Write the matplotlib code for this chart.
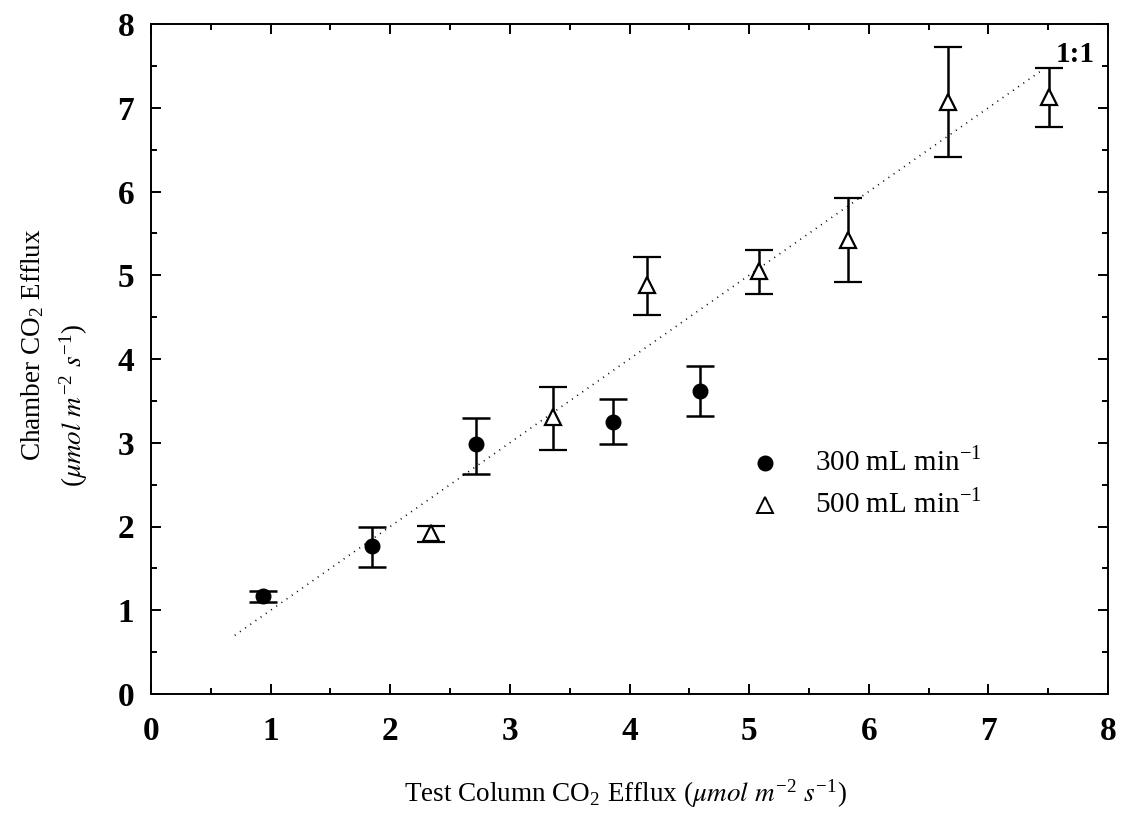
import matplotlib
matplotlib.use("Agg")
import matplotlib.pyplot as plt
import numpy as np

# 300 mL min-1 series (filled circles)
x300 = [0.94, 1.85, 2.72, 3.86, 4.59]
y300 = [1.17, 1.77, 2.99, 3.25, 3.62]
lo300 = [1.10, 1.52, 2.63, 2.98, 3.32]
hi300 = [1.23, 1.99, 3.29, 3.52, 3.92]

# 500 mL min-1 series (open triangles)
x500 = [2.34, 3.36, 4.15, 5.08, 5.83, 6.66, 7.51]
y500 = [1.92, 3.31, 4.88, 5.05, 5.42, 7.07, 7.13]
lo500 = [1.81, 2.91, 4.53, 4.78, 4.92, 6.41, 6.77]
hi500 = [2.01, 3.66, 5.22, 5.30, 5.92, 7.72, 7.47]

one_to_one = [0.70, 7.43]

xticks = [0, 1, 2, 3, 4, 5, 6, 7, 8]
yticks = [0, 1, 2, 3, 4, 5, 6, 7, 8]

plt.rcParams['font.family'] = ['Liberation Serif', 'DejaVu Serif']
plt.rcParams['mathtext.fontset'] = 'stix'

W, H = 1121, 816
fig = plt.figure(figsize=(W / 100, H / 100), dpi=100)
ax = fig.add_axes([151 / W, 1 - 694 / H, (1108 - 151) / W, (694 - 24) / H])

ax.plot(one_to_one, one_to_one, linestyle=(0, (0.6, 3.2)), color='black', lw=1.2)

def err(y, lo, hi):
    y = np.array(y); return [y - np.array(lo), np.array(hi) - y]

ax.errorbar(x300, y300, yerr=err(y300, lo300, hi300), fmt='o', color='black',
            markersize=10.5, capsize=10, elinewidth=1.8, capthick=1.8,
            markerfacecolor='black', markeredgecolor='black')
ax.errorbar(x500, y500, yerr=err(y500, lo500, hi500), fmt='^', color='black',
            markersize=11.5, capsize=10, elinewidth=1.8, capthick=1.8,
            markerfacecolor='white', markeredgecolor='black', markeredgewidth=1.6)

# legend drawn as in reference
ax.plot([5.13], [2.76], 'o', color='black', markersize=10.5)
ax.plot([5.13], [2.26], '^', markerfacecolor='white', markeredgecolor='black',
        markersize=11, markeredgewidth=1.4)
ax.text(5.55, 2.76, r'300 mL min$^{\mathregular{-1}}$', fontsize=21, va='center', ha='left')
ax.text(5.55, 2.26, r'500 mL min$^{\mathregular{-1}}$', fontsize=21, va='center', ha='left')

ax.text(7.89, 7.64, '1:1', fontsize=21, fontweight='bold', ha='right', va='center')

ax.set_xlim(0, 8)
ax.set_ylim(0, 8)
ax.set_xticks(xticks)
ax.set_yticks(yticks)
ax.set_xticks(np.arange(0.5, 8, 1.0), minor=True)
ax.set_yticks(np.arange(0.5, 8, 1.0), minor=True)
ax.tick_params(which='both', direction='in', top=True, right=True, width=1.4)
ax.tick_params(which='major', length=7)
ax.tick_params(which='minor', length=4)
ax.tick_params(axis='x', which='major', pad=16)
ax.tick_params(axis='y', which='major', pad=12)
for lab in ax.get_xticklabels() + ax.get_yticklabels():
    lab.set_fontweight('bold')
    lab.set_fontsize(24)
for s in ax.spines.values():
    s.set_linewidth(1.4)

# axis labels placed as in the reference
fig.text(625 / W, 1 - 793 / H,
         r'Test Column CO$_\mathregular{2}$ Efflux ($\mathit{\mu mol}$ $m^{\mathregular{-2}}$ $s^{\mathregular{-1}}$)',
         fontsize=19.5, ha='center', va='center')
fig.text(33 / W, 1 - 345 / H, r'Chamber CO$_\mathregular{2}$ Efflux',
         fontsize=19.5, ha='center', va='center', rotation=90)
fig.text(73 / W, 1 - 405 / H,
         r'($\mathit{\mu mol}$ $m^{\mathregular{-2}}$ $s^{\mathregular{-1}}$)',
         fontsize=19.5, ha='center', va='center', rotation=90)

fig.savefig('out.png', dpi=100)
